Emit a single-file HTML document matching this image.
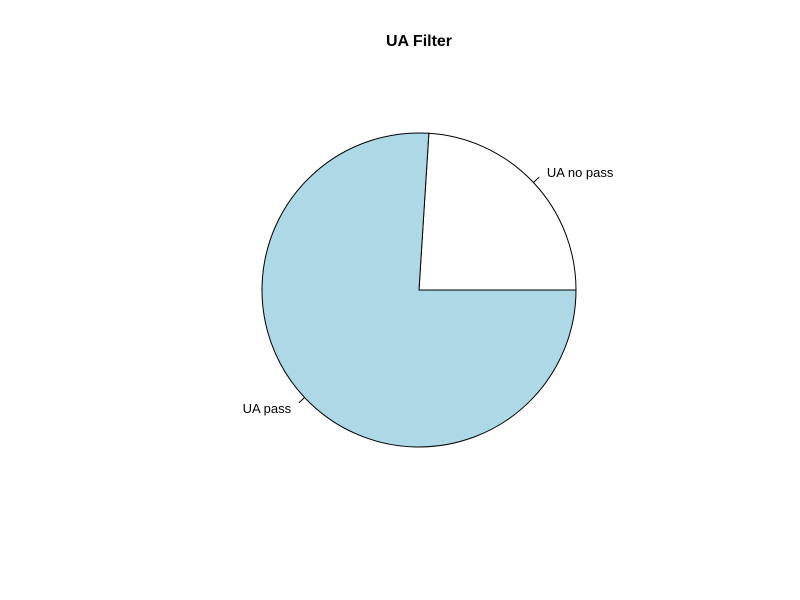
<!DOCTYPE html>
<html><head><meta charset="utf-8"><style>
body{margin:0;background:#fff;}
svg{display:block;font-family:"Liberation Sans",Arial,sans-serif;}
</style></head><body>
<svg id="chart" width="800" height="600">
<rect width="800" height="600" fill="#fff"/>
<text x="419" y="46" text-anchor="middle" font-size="16" font-weight="bold">UA Filter</text>
<g id="slices"></g>
</svg>
<script>
const categories = ["UA no pass", "UA pass"];
const values = [24, 76];
const colors = ["#ffffff", "#add8e6"];
const cx = 419, cy = 290, r = 157;
const g = document.getElementById('slices');
const ns = "http://www.w3.org/2000/svg";
const total = values.reduce((a, b) => a + b, 0);
let start = 0;
function pt(a, rr) { return [cx + rr * Math.cos(a), cy - rr * Math.sin(a)]; }
values.forEach((v, i) => {
  const a0 = start, a1 = start + v / total * 2 * Math.PI;
  start = a1;
  const p0 = pt(a0, r), p1 = pt(a1, r);
  const large = (a1 - a0) > Math.PI ? 1 : 0;
  const path = document.createElementNS(ns, 'path');
  path.setAttribute('d', `M${cx},${cy} L${p0[0]},${p0[1]} A${r},${r} 0 ${large} 0 ${p1[0]},${p1[1]} Z`);
  path.setAttribute('fill', colors[i]);
  path.setAttribute('stroke', '#000');
  path.setAttribute('stroke-width', '1');
  
  
  g.appendChild(path);
  const mid = (a0 + a1) / 2;
  const q0 = pt(mid, r), q1 = pt(mid, r * 1.05), q2 = pt(mid, r * 1.1);
  const ln = document.createElementNS(ns, 'line');
  ln.setAttribute('x1', q0[0]); ln.setAttribute('y1', q0[1]);
  ln.setAttribute('x2', q1[0]); ln.setAttribute('y2', q1[1]);
  ln.setAttribute('stroke', '#000');
  
  
  g.appendChild(ln);
  const t = document.createElementNS(ns, 'text');
  const right = Math.cos(mid) >= 0;
  t.setAttribute('x', q2[0] + (right ? 2 : -2));
  t.setAttribute('y', q2[1] + 5);
  t.setAttribute('text-anchor', right ? 'start' : 'end');
  t.setAttribute('font-size', '13');
  t.textContent = categories[i];
  
  
  g.appendChild(t);
});
</script>
</body></html>
